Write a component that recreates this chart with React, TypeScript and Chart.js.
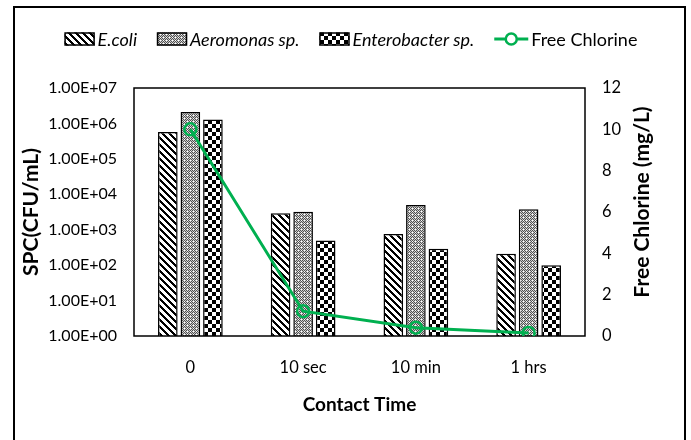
import React, { useEffect, useRef } from "react";
import { Chart, registerables } from "chart.js";

Chart.register(...registerables);

// Contact-time categories and plate counts (CFU/mL) per organism
const contactTimes = ["0", "10 sec", "10 min", "1 hrs"];
const eColiCounts = [5.7e5, 2.9e3, 7.6e2, 2.1e2];
const aeromonasCounts = [2.1e6, 3.2e3, 5.0e3, 3.8e3];
const enterobacterCounts = [1.3e6, 5.0e2, 2.9e2, 1.0e2];
// Residual free chlorine (mg/L) at each contact time
const freeChlorineMgL = [10, 1.2, 0.4, 0.15];
// Axis ticks
const spcTickValues = [1e0, 1e1, 1e2, 1e3, 1e4, 1e5, 1e6, 1e7];
const chlorineTickValues = [0, 2, 4, 6, 8, 10, 12];

const FONT = "Lato, 'Open Sans', sans-serif";
const GREEN = "#00b050";

// Excel-style scientific notation: 1.00E+07
function sciLabel(v: number): string {
  const e = Math.round(Math.log10(v));
  const m = v / Math.pow(10, e);
  return `${m.toFixed(2)}E${e >= 0 ? "+" : "-"}${String(Math.abs(e)).padStart(2, "0")}`;
}

function makeTile(size: number, paint: (x: number, y: number) => number): HTMLCanvasElement {
  const c = document.createElement("canvas");
  c.width = size;
  c.height = size;
  const ctx = c.getContext("2d")!;
  const img = ctx.createImageData(size, size);
  for (let y = 0; y < size; y++) {
    for (let x = 0; x < size; x++) {
      const g = paint(x, y);
      const i = (y * size + x) * 4;
      img.data[i] = g;
      img.data[i + 1] = g;
      img.data[i + 2] = g;
      img.data[i + 3] = 255;
    }
  }
  ctx.putImageData(img, 0, 0);
  return c;
}

function makePatterns(ctx: CanvasRenderingContext2D) {
  // wide downward diagonal stripes
  const stripes = makeTile(7, (x, y) => (((x - y) % 7 + 7) % 7 < 3 ? 0 : 255));
  // fine dotted grey
  const dotted = makeTile(6, (x, y) => {
    if (x % 3 === 1 && y % 3 === 1) return 255;
    return (x + y) % 2 === 0 ? 80 : 205;
  });
  // large checkerboard
  const checker = makeTile(8, (x, y) => (((x >> 2) + (y >> 2)) % 2 === 0 ? 0 : 255));
  return {
    stripes: ctx.createPattern(stripes, "repeat")!,
    dotted: ctx.createPattern(dotted, "repeat")!,
    checker: ctx.createPattern(checker, "repeat")!,
  };
}

// Outer frame, plot box, right-hand axis title and the series key
const decorPlugin = {
  id: "decor",
  beforeDraw(chart: any) {
    const { ctx } = chart;
    ctx.save();
    ctx.strokeStyle = "#000";
    ctx.lineWidth = 2;
    ctx.beginPath();
    ctx.moveTo(14, chart.height + 2);
    ctx.lineTo(14, 7);
    ctx.lineTo(685, 7);
    ctx.lineTo(685, chart.height + 2);
    ctx.stroke();
    ctx.restore();
  },
  beforeDatasetDraw(chart: any, args: any) {
    if (chart.data.datasets[args.index].type !== "line") return;
    const { ctx, chartArea: a } = chart;
    ctx.save();
    ctx.strokeStyle = "#000";
    ctx.lineWidth = 1.5;
    ctx.strokeRect(a.left, a.top, a.right - a.left, a.bottom - a.top);
    ctx.restore();
  },
  afterDraw(chart: any) {
    const { ctx, chartArea: a } = chart;
    ctx.save();
    // right axis title, reading bottom-to-top
    ctx.font = `bold 21px ${FONT}`;
    ctx.fillStyle = "#000";
    ctx.textAlign = "center";
    ctx.textBaseline = "middle";
    ctx.translate(a.right + 57, (a.top + a.bottom) / 2 - 10);
    ctx.rotate(-Math.PI / 2);
    ctx.fillText("Free Chlorine (mg/L)", 0, 0);
    ctx.restore();

    // series key
    ctx.save();
    const sw = 30, sh = 13, lw = 34, gap = 3, itemGap = 20, cy = 39;
    const items = chart.data.datasets.map((ds: any) => {
      const isLine = ds.type === "line";
      const font = `${isLine ? "" : "italic "}18px ${FONT}`;
      ctx.font = font;
      const tw = ctx.measureText(ds.label).width;
      const mw = isLine ? lw : sw;
      return { ds, isLine, font, mw, w: mw + gap + tw };
    });
    const total = items.reduce((s: number, it: any) => s + it.w, 0) + itemGap * (items.length - 1);
    let x = 351 - total / 2;
    ctx.textBaseline = "middle";
    ctx.textAlign = "left";
    for (const it of items) {
      if (it.isLine) {
        ctx.strokeStyle = it.ds.borderColor;
        ctx.lineWidth = 3;
        ctx.beginPath();
        ctx.moveTo(x, cy);
        ctx.lineTo(x + it.mw, cy);
        ctx.stroke();
        ctx.lineWidth = 2.5;
        ctx.fillStyle = "#fff";
        ctx.beginPath();
        ctx.arc(x + it.mw / 2, cy, 5.5, 0, Math.PI * 2);
        ctx.fill();
        ctx.stroke();
      } else {
        ctx.fillStyle = it.ds.backgroundColor;
        ctx.fillRect(x, cy - sh / 2, sw, sh);
        ctx.strokeStyle = "#000";
        ctx.lineWidth = 1.5;
        ctx.strokeRect(x + 0.5, cy - sh / 2 + 0.5, sw - 1, sh - 1);
      }
      ctx.font = it.font;
      ctx.fillStyle = "#000";
      ctx.fillText(it.ds.label, x + it.mw + gap, cy + 1);
      x += it.w + itemGap;
    }
    ctx.restore();
  },
};

export default function App() {
  const canvasRef = useRef<HTMLCanvasElement | null>(null);

  useEffect(() => {
    const canvas = canvasRef.current!;
    const ctx = canvas.getContext("2d")!;
    const p = makePatterns(ctx);

    const barCommon = {
      type: "bar" as const,
      yAxisID: "y",
      borderColor: "#000",
      borderWidth: 1.5,
      categoryPercentage: 0.6,
      barPercentage: 0.87,
      order: 1,
    };

    const chart = new Chart(ctx, {
      type: "bar",
      data: {
        labels: contactTimes,
        datasets: [
          { ...barCommon, label: "E.coli", data: eColiCounts, backgroundColor: p.stripes },
          { ...barCommon, label: "Aeromonas sp.", data: aeromonasCounts, backgroundColor: p.dotted },
          { ...barCommon, label: "Enterobacter sp.", data: enterobacterCounts, backgroundColor: p.checker },
          {
            type: "line",
            label: "Free Chlorine",
            data: freeChlorineMgL,
            yAxisID: "y1",
            borderColor: GREEN,
            borderWidth: 3,
            pointRadius: 6,
            pointBorderWidth: 2.5,
            pointBorderColor: GREEN,
            pointBackgroundColor: "rgba(0,0,0,0)",
            tension: 0,
            order: 0,
          } as any,
        ],
      },
      options: {
        responsive: false,
        animation: false,
        layout: { padding: { left: 14, top: 88, right: 0, bottom: 0 } },
        plugins: {
          legend: { display: false },
          tooltip: { enabled: false },
        },
        scales: {
          x: {
            grid: { display: false, drawTicks: false },
            border: { display: false },
            ticks: { color: "#000", font: { family: FONT, size: 16.5 }, padding: 22 },
            title: {
              display: true,
              text: "Contact Time",
              color: "#000",
              font: { family: FONT, size: 19, weight: "bold" },
              padding: { top: 0, bottom: 24 },
            },
            afterFit: (s: any) => {
              s.height = 104;
            },
          },
          y: {
            type: "logarithmic",
            position: "left",
            min: spcTickValues[0],
            max: spcTickValues[spcTickValues.length - 1],
            grid: { display: false, drawTicks: false },
            border: { display: false },
            afterBuildTicks: (s: any) => {
              s.ticks = spcTickValues.map((v) => ({ value: v }));
            },
            ticks: {
              color: "#000",
              font: { family: FONT, size: 16 },
              padding: 17,
              callback: (v: any) => sciLabel(Number(v)),
            },
            title: {
              display: true,
              text: "SPC(CFU/mL)",
              color: "#000",
              font: { family: FONT, size: 21, weight: "bold" },
              padding: { top: 5, bottom: 0 },
            },
            afterFit: (s: any) => {
              s.width = 120;
            },
          },
          y1: {
            type: "linear",
            position: "right",
            min: chlorineTickValues[0],
            max: chlorineTickValues[chlorineTickValues.length - 1],
            grid: { display: false, drawTicks: false },
            border: { display: false },
            afterBuildTicks: (s: any) => {
              s.ticks = chlorineTickValues.map((v) => ({ value: v }));
            },
            ticks: { color: "#000", font: { family: FONT, size: 16.5 }, padding: 17 },
            afterFit: (s: any) => {
              s.width = 106;
            },
          },
        },
      },
      plugins: [decorPlugin],
    });

    return () => chart.destroy();
  }, []);

  return (
    <div style={{ position: "fixed", left: 0, top: 0, width: 691, height: 440, background: "#fff" }}>
      <canvas ref={canvasRef} width={691} height={440} style={{ display: "block", width: 691, height: 440 }} />
    </div>
  );
}
